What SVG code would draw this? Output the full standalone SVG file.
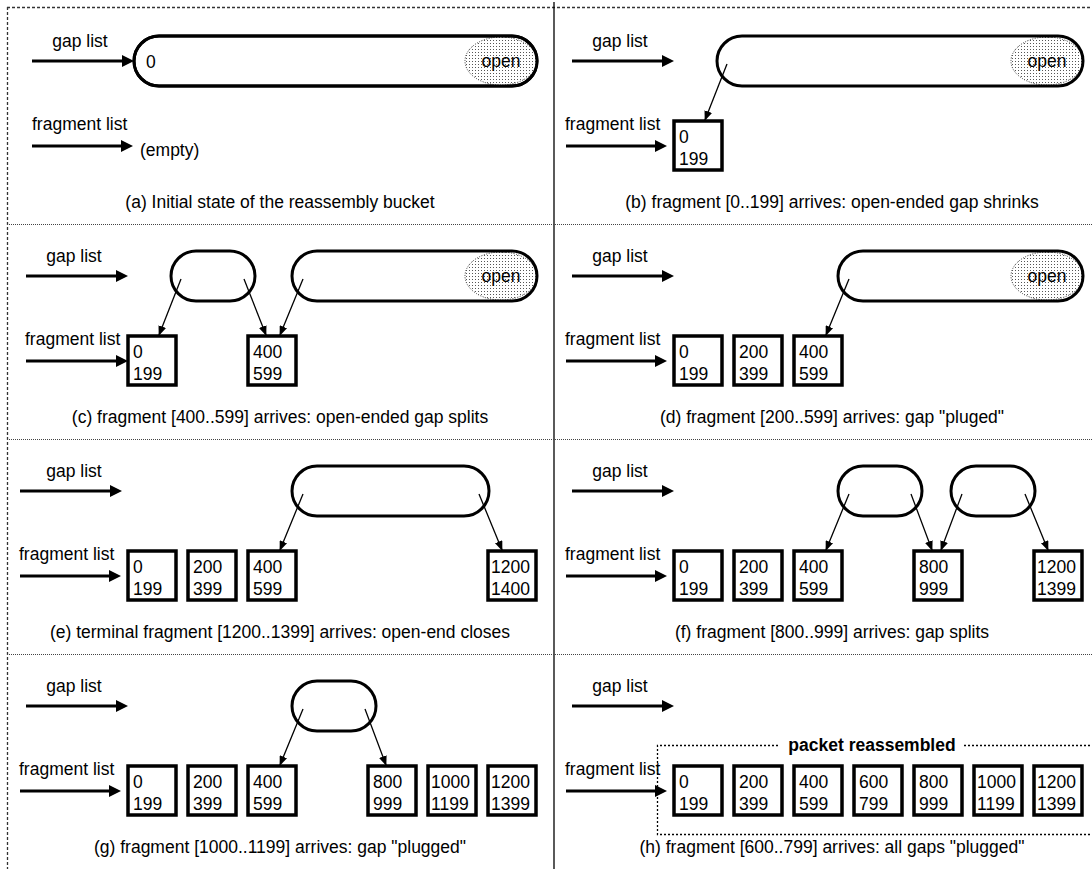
<svg xmlns="http://www.w3.org/2000/svg" width="1092" height="869" viewBox="0 0 1092 869">
<defs>
<style>
.t{font-family:"Liberation Sans",Arial,Helvetica,sans-serif;font-size:17.5px;fill:#000}
.c{text-anchor:middle}
.b{font-weight:bold}
.pill{fill:none;stroke:#000;stroke-width:3}
.box{fill:#fff;stroke:#000;stroke-width:3.5}
.thick{stroke:#000;stroke-width:3;fill:none}
.thin{stroke:#000;stroke-width:1.3;fill:none}
.border{stroke:#333;stroke-width:1.3;stroke-dasharray:3 2;fill:none}
.sep{stroke:#444;stroke-width:1;stroke-dasharray:1 1;fill:none}
.vsep{stroke:#000;stroke-width:1.3;fill:none}
.dotbox{stroke:#000;stroke-width:1.3;stroke-dasharray:2 2;fill:none}
.open{fill:url(#dots);stroke:#333;stroke-width:1;stroke-dasharray:1 1.5}
</style>
<pattern id="dots" width="3" height="3" patternUnits="userSpaceOnUse">
<rect width="3" height="3" fill="#fff"/>
<rect x="1" y="1" width="1" height="1" fill="#555"/>
</pattern>
<marker id="ah" viewBox="0 0 12 12" markerWidth="12" markerHeight="12" refX="4" refY="6" orient="auto" markerUnits="userSpaceOnUse"><path d="M0,0 L12,6 L0,12 z" fill="#000"/></marker>
<marker id="as" viewBox="0 0 10 8" markerWidth="10" markerHeight="8" refX="9" refY="4" orient="auto" markerUnits="userSpaceOnUse"><path d="M0,0 L10,4 L0,8 z" fill="#000"/></marker>
</defs>
<rect width="1092" height="869" fill="#fff"/>

<g id="frame">
<line class="border" x1="7" y1="7.5" x2="1092" y2="7.5"/>
<line class="border" x1="7.5" y1="7" x2="7.5" y2="869"/>
<line class="vsep" x1="554" y1="2" x2="554" y2="869"/>
<line class="sep" x1="7" y1="224.5" x2="1092" y2="224.5"/>
<line class="sep" x1="7" y1="439.5" x2="1092" y2="439.5"/>
<line class="sep" x1="7" y1="654.5" x2="1092" y2="654.5"/>
</g>

<!-- Panel a -->
<g id="panel-a" transform="translate(0,0)">
<g id="a-gap-label"><text class="t c" x="80" y="47">gap list</text></g>
<g id="a-frag-label"><text class="t" x="32" y="130">fragment list</text></g>
<g id="a-gap0"><rect class="pill" x="134" y="36" width="403" height="50" rx="25" ry="25"/>
<ellipse class="open" cx="501" cy="61" rx="36" ry="24"/>
<rect class="pill" x="134" y="36" width="403" height="50" rx="25" ry="25"/>
<text class="t" x="146" y="68">0</text>
<text class="t c" x="501" y="67">open</text></g>
<g id="a-empty"><text class="t" x="140" y="156">(empty)</text></g>
<g id="a-caption"><text class="t c" x="280" y="208">(a) Initial state of the reassembly bucket</text></g>
<g id="a-connectors">
<line class="thick" x1="32" y1="61" x2="126" y2="61" marker-end="url(#ah)"/>
<line class="thick" x1="32" y1="146" x2="125" y2="146" marker-end="url(#ah)"/>
</g>
</g>

<!-- Panel b -->
<g id="panel-b" transform="translate(546,0)">
<g id="b-gap-label"><text class="t c" x="74" y="47">gap list</text></g>
<g id="b-frag-label"><text class="t" x="19" y="130">fragment list</text></g>
<g id="b-gap"><ellipse class="open" cx="501" cy="61" rx="36" ry="24"/>
<rect class="pill" x="171" y="36" width="366" height="50" rx="25" ry="25"/>
<text class="t c" x="501" y="67">open</text></g>
<g id="b-box-0"><rect class="box" x="128" y="121" width="48" height="49"/><text class="t" x="133" y="143">0</text><text class="t" x="133" y="165">199</text></g>
<g id="b-caption"><text class="t c" x="286" y="208">(b) fragment [0..199] arrives: open-ended gap shrinks</text></g>
<g id="b-connectors">
<line class="thick" x1="26" y1="61" x2="120" y2="61" marker-end="url(#ah)"/>
<line class="thick" x1="20" y1="146" x2="113" y2="146" marker-end="url(#ah)"/>
<line class="thin" x1="181" y1="64" x2="159" y2="120" marker-end="url(#as)"/>
</g>
</g>

<!-- Panel c -->
<g id="panel-c" transform="translate(0,215)">
<g id="c-gap-label"><text class="t c" x="74" y="47">gap list</text></g>
<g id="c-frag-label"><text class="t" x="25" y="130">fragment list</text></g>
<g id="c-gap1"><rect class="pill" x="171" y="36" width="84" height="50" rx="25" ry="25"/></g>
<g id="c-gap2"><ellipse class="open" cx="501" cy="61" rx="36" ry="24"/>
<rect class="pill" x="292" y="36" width="245" height="50" rx="25" ry="25"/>
<text class="t c" x="501" y="67">open</text></g>
<g id="c-box-0"><rect class="box" x="128" y="121" width="48" height="49"/><text class="t" x="133" y="143">0</text><text class="t" x="133" y="165">199</text></g>
<g id="c-box-400"><rect class="box" x="248" y="121" width="48" height="49"/><text class="t" x="253" y="143">400</text><text class="t" x="253" y="165">599</text></g>
<g id="c-caption"><text class="t c" x="280" y="208">(c) fragment [400..599] arrives: open-ended gap splits</text></g>
<g id="c-connectors">
<line class="thick" x1="26" y1="61" x2="120" y2="61" marker-end="url(#ah)"/>
<line class="thick" x1="26" y1="146" x2="120" y2="146" marker-end="url(#ah)"/>
<line class="thin" x1="181" y1="64" x2="159" y2="120" marker-end="url(#as)"/>
<line class="thin" x1="244" y1="64" x2="266" y2="120" marker-end="url(#as)"/>
<line class="thin" x1="303" y1="64" x2="280" y2="120" marker-end="url(#as)"/>
</g>
</g>

<!-- Panel d -->
<g id="panel-d" transform="translate(546,215)">
<g id="d-gap-label"><text class="t c" x="74" y="47">gap list</text></g>
<g id="d-frag-label"><text class="t" x="19" y="130">fragment list</text></g>
<g id="d-gap"><ellipse class="open" cx="501" cy="61" rx="36" ry="24"/>
<rect class="pill" x="292" y="36" width="245" height="50" rx="25" ry="25"/>
<text class="t c" x="501" y="67">open</text></g>
<g id="d-box-0"><rect class="box" x="128" y="121" width="48" height="49"/><text class="t" x="133" y="143">0</text><text class="t" x="133" y="165">199</text></g>
<g id="d-box-200"><rect class="box" x="188" y="121" width="48" height="49"/><text class="t" x="193" y="143">200</text><text class="t" x="193" y="165">399</text></g>
<g id="d-box-400"><rect class="box" x="248" y="121" width="48" height="49"/><text class="t" x="253" y="143">400</text><text class="t" x="253" y="165">599</text></g>
<g id="d-caption"><text class="t c" x="286" y="208">(d) fragment [200..599] arrives: gap "pluged"</text></g>
<g id="d-connectors">
<line class="thick" x1="26" y1="61" x2="120" y2="61" marker-end="url(#ah)"/>
<line class="thick" x1="20" y1="146" x2="113" y2="146" marker-end="url(#ah)"/>
<line class="thin" x1="303" y1="64" x2="280" y2="120" marker-end="url(#as)"/>
</g>
</g>

<!-- Panel e -->
<g id="panel-e" transform="translate(0,430)">
<g id="e-gap-label"><text class="t c" x="74" y="47">gap list</text></g>
<g id="e-frag-label"><text class="t" x="19" y="130">fragment list</text></g>
<g id="e-gap"><rect class="pill" x="292" y="36" width="197" height="50" rx="25" ry="25"/></g>
<g id="e-box-0"><rect class="box" x="128" y="121" width="48" height="49"/><text class="t" x="133" y="143">0</text><text class="t" x="133" y="165">199</text></g>
<g id="e-box-200"><rect class="box" x="188" y="121" width="48" height="49"/><text class="t" x="193" y="143">200</text><text class="t" x="193" y="165">399</text></g>
<g id="e-box-400"><rect class="box" x="248" y="121" width="48" height="49"/><text class="t" x="253" y="143">400</text><text class="t" x="253" y="165">599</text></g>
<g id="e-box-1200"><rect class="box" x="488" y="121" width="48" height="49"/><text class="t" x="491" y="143">1200</text><text class="t" x="491" y="165">1400</text></g>
<g id="e-caption"><text class="t c" x="280" y="208">(e) terminal fragment [1200..1399] arrives: open-end closes</text></g>
<g id="e-connectors">
<line class="thick" x1="20" y1="61" x2="114" y2="61" marker-end="url(#ah)"/>
<line class="thick" x1="20" y1="146" x2="113" y2="146" marker-end="url(#ah)"/>
<line class="thin" x1="303" y1="64" x2="280" y2="120" marker-end="url(#as)"/>
<line class="thin" x1="479" y1="64" x2="502" y2="120" marker-end="url(#as)"/>
</g>
</g>

<!-- Panel f -->
<g id="panel-f" transform="translate(546,430)">
<g id="f-gap-label"><text class="t c" x="74" y="47">gap list</text></g>
<g id="f-frag-label"><text class="t" x="19" y="130">fragment list</text></g>
<g id="f-gap1"><rect class="pill" x="292" y="36" width="84" height="50" rx="25" ry="25"/></g>
<g id="f-gap2"><rect class="pill" x="405" y="36" width="84" height="50" rx="25" ry="25"/></g>
<g id="f-box-0"><rect class="box" x="128" y="121" width="48" height="49"/><text class="t" x="133" y="143">0</text><text class="t" x="133" y="165">199</text></g>
<g id="f-box-200"><rect class="box" x="188" y="121" width="48" height="49"/><text class="t" x="193" y="143">200</text><text class="t" x="193" y="165">399</text></g>
<g id="f-box-400"><rect class="box" x="248" y="121" width="48" height="49"/><text class="t" x="253" y="143">400</text><text class="t" x="253" y="165">599</text></g>
<g id="f-box-800"><rect class="box" x="368" y="121" width="48" height="49"/><text class="t" x="373" y="143">800</text><text class="t" x="373" y="165">999</text></g>
<g id="f-box-1200"><rect class="box" x="488" y="121" width="48" height="49"/><text class="t" x="491" y="143">1200</text><text class="t" x="491" y="165">1399</text></g>
<g id="f-caption"><text class="t c" x="286" y="208">(f) fragment [800..999] arrives: gap splits</text></g>
<g id="f-connectors">
<line class="thick" x1="26" y1="61" x2="120" y2="61" marker-end="url(#ah)"/>
<line class="thick" x1="20" y1="146" x2="113" y2="146" marker-end="url(#ah)"/>
<line class="thin" x1="303" y1="64" x2="280" y2="120" marker-end="url(#as)"/>
<line class="thin" x1="365" y1="64" x2="386" y2="120" marker-end="url(#as)"/>
<line class="thin" x1="416" y1="64" x2="395" y2="120" marker-end="url(#as)"/>
<line class="thin" x1="479" y1="64" x2="502" y2="120" marker-end="url(#as)"/>
</g>
</g>

<!-- Panel g -->
<g id="panel-g" transform="translate(0,645)">
<g id="g-gap-label"><text class="t c" x="74" y="47">gap list</text></g>
<g id="g-frag-label"><text class="t" x="19" y="130">fragment list</text></g>
<g id="g-gap"><rect class="pill" x="292" y="36" width="84" height="50" rx="25" ry="25"/></g>
<g id="g-box-0"><rect class="box" x="128" y="121" width="48" height="49"/><text class="t" x="133" y="143">0</text><text class="t" x="133" y="165">199</text></g>
<g id="g-box-200"><rect class="box" x="188" y="121" width="48" height="49"/><text class="t" x="193" y="143">200</text><text class="t" x="193" y="165">399</text></g>
<g id="g-box-400"><rect class="box" x="248" y="121" width="48" height="49"/><text class="t" x="253" y="143">400</text><text class="t" x="253" y="165">599</text></g>
<g id="g-box-800"><rect class="box" x="368" y="121" width="48" height="49"/><text class="t" x="373" y="143">800</text><text class="t" x="373" y="165">999</text></g>
<g id="g-box-1000"><rect class="box" x="428" y="121" width="48" height="49"/><text class="t" x="431" y="143">1000</text><text class="t" x="431" y="165">1199</text></g>
<g id="g-box-1200"><rect class="box" x="488" y="121" width="48" height="49"/><text class="t" x="491" y="143">1200</text><text class="t" x="491" y="165">1399</text></g>
<g id="g-caption"><text class="t c" x="280" y="208">(g) fragment [1000..1199] arrives: gap "plugged"</text></g>
<g id="g-connectors">
<line class="thick" x1="26" y1="61" x2="120" y2="61" marker-end="url(#ah)"/>
<line class="thick" x1="20" y1="146" x2="113" y2="146" marker-end="url(#ah)"/>
<line class="thin" x1="303" y1="64" x2="280" y2="120" marker-end="url(#as)"/>
<line class="thin" x1="365" y1="64" x2="386" y2="120" marker-end="url(#as)"/>
</g>
</g>

<!-- Panel h -->
<g id="panel-h" transform="translate(546,645)">
<g id="h-gap-label"><text class="t c" x="74" y="47">gap list</text></g>
<g id="h-frag-label"><text class="t" x="19" y="130">fragment list</text></g>
<g id="h-packet">
<path class="dotbox" d="M232,100.5 H111.5 V189.5 H546 M418,100.5 H546"/>
<text class="t c b" x="326" y="106">packet reassembled</text>
</g>
<g id="h-box-0"><rect class="box" x="128" y="121" width="48" height="49"/><text class="t" x="133" y="143">0</text><text class="t" x="133" y="165">199</text></g>
<g id="h-box-200"><rect class="box" x="188" y="121" width="48" height="49"/><text class="t" x="193" y="143">200</text><text class="t" x="193" y="165">399</text></g>
<g id="h-box-400"><rect class="box" x="248" y="121" width="48" height="49"/><text class="t" x="253" y="143">400</text><text class="t" x="253" y="165">599</text></g>
<g id="h-box-600"><rect class="box" x="308" y="121" width="48" height="49"/><text class="t" x="313" y="143">600</text><text class="t" x="313" y="165">799</text></g>
<g id="h-box-800"><rect class="box" x="368" y="121" width="48" height="49"/><text class="t" x="373" y="143">800</text><text class="t" x="373" y="165">999</text></g>
<g id="h-box-1000"><rect class="box" x="428" y="121" width="48" height="49"/><text class="t" x="431" y="143">1000</text><text class="t" x="431" y="165">1199</text></g>
<g id="h-box-1200"><rect class="box" x="488" y="121" width="48" height="49"/><text class="t" x="491" y="143">1200</text><text class="t" x="491" y="165">1399</text></g>
<g id="h-caption"><text class="t c" x="286" y="208">(h) fragment [600..799] arrives: all gaps "plugged"</text></g>
<g id="h-connectors">
<line class="thick" x1="26" y1="61" x2="120" y2="61" marker-end="url(#ah)"/>
<line class="thick" x1="20" y1="146" x2="113" y2="146" marker-end="url(#ah)"/>
</g>
</g>
</svg>
